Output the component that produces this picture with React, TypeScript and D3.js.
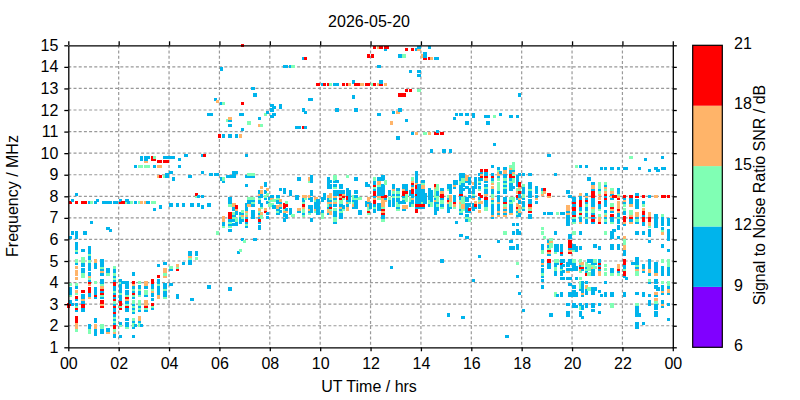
import React, { useEffect, useRef } from 'react';
import * as d3 from 'd3';

// one row per 5 minute slot of the day: [slot, SNR 9-12, SNR 12-15, SNR 15-18, SNR 18-21] with the frequencies in MHz
type ScanRow = [number, number[], number[], number[], number[]];

const scans00to04: ScanRow[] = [
	[0, [], [], [], [3, 2.9]],
	[1, [6.1, 3.7, 3.6, 3.5, 3.1], [3.9, 3.4], [], [7.7, 3]],
	[2, [7.8, 6.3, 3], [], [], []],
	[4, [8.1, 6.3, 6.2, 6.1, 5.8, 5.7, 5.6, 5.4, 4.9, 3.8, 3.2, 3, 2.7], [5.5, 5, 3.9, 3.5, 2.9, 1.8], [4.7, 4.5, 4.4, 4.2, 3.6, 2.1, 2, 1.9], [7.7, 3.3, 2.8, 2.4, 2.3, 2.2]],
	[7, [5.5, 4.9, 4.8, 4.6, 4.5, 3.4, 3.3, 3.1, 2.8, 2.7], [5.1, 5, 4.4, 4.3], [3.2], [7.7, 3.6, 3, 2.9]],
	[8, [6.3], [], [], [7.7]],
	[10, [7.7, 5.6, 5.5, 5.4, 5.2, 5.1, 4.9, 4.8, 4.7, 4.6, 4.4, 4.1, 3.5, 3.4, 2, 1.9], [5.3, 5, 4.2, 1.8, 1.7], [4.3, 3.9, 3.3], [4, 3.7, 3.6]],
	[11, [7.7, 6.8], [7.7], [], []],
	[13, [7.7, 4.9, 4.8, 4.7, 3.7, 3.6, 3.5, 3.3, 2.3, 2.2, 1.8, 1.7, 1.6], [4, 3.4], [5, 2, 1.9], [3.4]],
	[14, [7.8], [], [], []],
	[16, [5, 4.9, 4.8, 4.6, 4.4, 4.1, 4, 3.6, 3.3, 1.8, 1.7], [4.7, 3.9, 3.4, 2, 1.9], [4.5, 3.8, 3], [3.7, 3.5, 3.1, 2.9]],
	[17, [7.7], [], [], []],
	[19, [7.7, 6.5, 4.6, 4.5, 1.8], [4.4], [1.7], []],
	[20, [7.7, 6.4], [], [], []],
	[22, [7.7, 4.6, 4.5, 4.3, 4.1, 3.8, 3.7, 3.5, 3.3, 3, 2.8, 2.7, 2.5, 2.3, 2.1, 1.6, 1.5], [4.7, 4.4, 4.2, 3.6, 3.1, 2.4, 2.2, 1.8], [1.7], [4, 3.9, 3.4, 3.2, 2.9, 2.6, 2, 1.9]],
	[23, [7.7], [], [], []],
	[25, [7.8, 4.1, 3.9, 3.8, 3.7, 3.6, 3.4, 3.3, 3.2, 2.1, 1.5], [4, 3.5, 2.9, 2], [], [7.7, 3.1, 3, 2.8]],
	[26, [4], [], [], [7.7]],
	[28, [7.8, 4, 3.9, 3.8, 3.6, 3.5, 3.1, 2.8, 2.7, 2.3, 2.1, 2], [7.7, 3.4, 3, 1.9], [3.2], [3.3, 2.9]],
	[29, [7.7], [], [], []],
	[30, [], [7.7], [], []],
	[31, [4.4, 3.8, 3.6, 3.3, 3, 2.8, 2.6, 2.2, 1.9, 1.5], [3.7, 3.4, 3.1, 2.9, 2.7, 2.3, 2.1, 2], [3.9], [4, 3.5]],
	[32, [9.4, 7.7, 2], [], [], []],
	[34, [3.8, 3.6, 3.5, 2.9, 2.7, 2.2], [9.4, 7.7, 4, 3.7, 3.4, 3.1, 3, 2.8, 2.1, 2], [2.4, 2.3], []],
	[35, [9.8, 9.7, 2], [9.4], [7.7], []],
	[37, [9.8, 9.7, 3.8, 3.4, 2.7], [9.4, 3.6, 3.5, 2.8], [9.6, 7.7, 4, 3.9, 3.1, 3], [2.9]],
	[38, [9.8, 7.7], [9.4], [], []],
	[40, [3.9, 3.8, 3.5, 3.4, 3.2, 2.8], [7.7, 3.7, 2.9], [3.6], [9.8, 9.7, 4.1, 4, 3]],
	[41, [9.4, 7.4], [9.8, 7.7], [], [9.7]],
	[43, [4.8, 4.1, 4, 3.8, 3.7, 3.6, 3.5], [3.9], [9.4, 8.9, 3.4, 3.3], [9.6, 4.3]],
	[44, [7.5], [], [9.4], [9.6, 8.9]],
	[46, [9.8, 4.9, 3.9, 3.8, 3.6, 3.5, 3.4], [8.9, 4.4, 3.7, 3.3], [4.6, 4.5, 4.3], [9.6]],
	[47, [9.8, 9, 8.9], [], [], [9.6]],
];

const scans04to08: ScanRow[] = [
	[49, [9.8, 9.1, 7.6, 4.6, 3.9], [4.7], [], []],
	[50, [9.8, 8.8], [], [], []],
	[52, [7.6, 3.4, 3.3], [4.7], [4.8], [4.6]],
	[53, [9.7, 9.4], [], [], []],
	[55, [7.6, 4.9], [], [], []],
	[56, [9.9], [], [], []],
	[58, [8.9, 5.4, 5.3, 5, 4.9], [5.1], [5.2], []],
	[59, [7.6, 3.2], [], [], []],
	[61, [8, 5.4, 5.3], [8, 5.1], [], [8.1]],
	[62, [8, 7.6], [], [], []],
	[64, [9.9, 9.1, 8, 7.5], [], [], []],
	[65, [], [], [], [9.9]],
	[67, [11.8, 7.6, 3.8], [], [], []],
	[68, [11.8, 9], [], [], []],
	[70, [12.5, 9], [], [], []],
	[71, [12.4, 9], [6.3], [12.4], []],
	[72, [], [], [], [10.8]],
	[73, [13.9, 12.3, 8.8], [], [], []],
	[74, [10.8, 8.7, 6.8, 6.7], [12.3, 8.8, 6.6], [7, 6.9], []],
	[76, [8.9], [11.5], [], []],
	[77, [11.5, 11.3, 10.8, 8.9, 7.9, 7.8, 7.7, 6.9, 6.7, 6.4, 3.7], [7.6, 6.8, 6.6], [11.6], [7.2, 7.1, 7]],
	[79, [9.1, 9, 8.9, 7.5, 7.4, 7.1, 6.9, 6.7], [7.2, 7], [7.6], []],
	[80, [10.8, 9.1, 7.3, 7.2, 6.8, 6.7], [6.9], [7.4], [7.5]],
	[81, [5.4], [], [], []],
	[82, [11.8, 7.2, 7, 6.9, 6.8], [7.1, 5.5], [10.8], []],
	[83, [11.8, 11.1, 7.2, 6.9, 6], [7.3, 7], [7.1], [15, 12.3]],
	[84, [], [5.9], [], []],
	[85, [9.9, 8.9, 8.5, 7.6, 7.5, 7.4, 7, 6.8, 6.6], [7.2, 6.7], [7.3, 7.1], [6.9]],
	[86, [8.9, 7.8, 7.7], [11.4, 9, 7.9], [7.6], []],
	[88, [13, 8.9, 7.8, 7.6, 7.3, 7.2, 7.1, 7], [9, 7.9, 7.7], [], []],
	[89, [12.7, 6], [], [], []],
	[91, [11.6, 8.2, 8, 7.8, 7.7, 7.2, 7, 6.8, 6.6, 6.5], [7.9, 7.3], [11.3, 8.1, 7.4, 7.1], [6.9]],
	[92, [8.1, 8, 7.6], [11.3, 7.5, 7.1, 7], [8.4, 8.2, 7.2], []],
	[94, [8.6, 8.5, 8.2, 7.9], [11.8, 8], [7.4], [7.3]],
	[95, [11.9, 7.7, 7.2, 7], [8.1], [8.3], []],
];

const scans08to12: ScanRow[] = [
	[96, [7.9], [7.8, 7.6], [], []],
	[97, [12.2, 12, 11.7, 8], [7.6], [7.9], []],
	[98, [12.1, 11.8, 7.5], [7.8], [], []],
	[100, [8, 7.8, 7.7, 7.4, 7.2], [7.9, 7.3], [7.5], []],
	[101, [12.2, 12.1, 8.3, 7.7, 7.5, 7.3], [], [7.8, 7.6], []],
	[103, [14, 8.3, 8.2, 7.2, 7.1, 6.9], [7.4], [7.3], [7.6, 7.5]],
	[104, [14, 7.4, 7.1, 7], [7.7], [7.3], [7.6]],
	[106, [14, 8.2, 8.1, 7.4, 7.3, 7.2], [], [], []],
	[107, [], [14, 7.1], [], []],
	[109, [11.2, 8, 7.9], [], [], []],
	[110, [11.2, 8.8, 7.3], [], [7.4], []],
	[112, [14.4, 12, 7.9, 7.8, 7.2], [7.7, 7.4, 7.3, 7.1], [8, 7.5], [11.2, 7.6]],
	[113, [11.9, 11.2], [7.9], [8], [14.4]],
	[115, [12.5, 7.9, 7.5, 7.3], [8.7, 7.2], [8.8, 8, 7.4], []],
	[116, [12.5, 8.9, 8.8, 8.7, 8.2, 8.1, 7.9, 7.8, 7.5, 7.4, 7.3, 6.9], [], [], []],
	[118, [7.7, 7.6, 7.5], [7.8, 7.3], [7.9, 7.4], []],
	[119, [7.8, 7.7, 7.6, 7.5, 7.4, 7.3, 7.2], [], [], [13.2]],
	[121, [13.2, 7.9, 7.8, 7.3], [7.2, 7.1, 7], [], []],
	[122, [8.1, 8, 7.9], [], [], [13.2]],
	[124, [8.8, 8.7, 8.6, 8.5, 8.4, 7.9, 7.8, 7.5, 7.2], [7.6], [8, 7.7, 7.4, 7.3], [13.2]],
	[125, [8.7, 8.5, 8.4, 7.8, 7.6], [13.2, 7.9, 7.4], [8.1, 8, 7.7, 7.3, 7.2], [7.5]],
	[127, [13.2, 8.7, 8.5, 8.2, 8.1, 7.9, 7.6, 7.3, 7.2, 7.1, 6.8], [8.9, 8.8, 8.4, 7.8, 7.4, 7, 6.9], [8, 7.7], []],
	[128, [13.2, 12, 8.7, 8.2, 8.1], [], [], []],
	[130, [8.5, 8.4, 8.2, 7.6, 7.4, 7.2, 7.1, 7], [7.8, 7.7, 7.3], [8, 7.5], [8.1, 7.9]],
	[131, [8.2, 7.5], [7.9, 7.4], [8.1], [13.2, 8]],
	[133, [8.3, 8.2, 8.1, 7.8, 7.6], [8.9], [7.7, 7.5, 7.4], [13.2, 8, 7.9]],
	[134, [8.2, 8.1, 8, 7.9, 7.8], [7.7], [13.2], []],
	[136, [13.3, 12.6, 7.8, 7.5], [8, 7.9, 7.7], [7.6], []],
	[137, [12, 8.8, 8.2, 8, 7.8, 7.7, 7.6, 7.5], [7.9], [], [13.2]],
	[139, [7.3, 7.2], [7.9], [], [13.2]],
	[140, [], [], [13.2], []],
	[142, [8.6, 8.5, 7.7, 7.6], [], [], [13.2]],
	[143, [8.5, 7.7], [7.5, 7.4, 7.2], [7.9, 7.8, 7.6], [14.5, 13.2, 7.3]],
];

const scans12to16: ScanRow[] = [
	[144, [7.6, 7.5], [], [], []],
	[145, [], [13.2], [], [14.5]],
	[146, [8.7, 8.6, 8.3, 8, 7.6, 7.4, 7.3], [8.8, 8.4, 7.5], [7.9], [14.9, 13.2, 8.5, 8.2, 8.1, 7.8, 7.7]],
	[148, [14, 11.8, 8.8, 8.4, 8.3, 8.2, 8.1, 7.6, 7.5, 7.4], [8.5, 7.9], [14.9, 13.2, 8.7, 8.6, 8], []],
	[149, [13.3], [], [], [14.9, 13.2]],
	[150, [8.9, 8.8, 8.5, 8.4, 8.3, 8.2, 8.1, 7.1, 7], [7.5, 6.9], [7.9, 7.8, 7.7, 7.6, 7.3], [8, 7.4, 7.2]],
	[151, [14.8, 7.9], [8.7, 8.6], [13.2, 7.8], [14.9, 8]],
	[152, [], [], [], [14.9]],
	[153, [8.2, 8.1, 7.8, 7.7, 7.6], [7.9], [], []],
	[154, [4.7], [], [11.4], []],
	[155, [11.9, 8.5, 8.4, 8.1, 7.9, 7.8, 7.7, 7.6], [8.2, 8], [8.3], []],
	[157, [10.7, 8.3, 8.1, 7.9, 7.8, 7.5], [8.2, 8, 7.7, 7.6, 7.4], [11.9], []],
	[158, [14.5, 12, 7.7], [], [], [12.7]],
	[160, [8.5, 8.4, 8, 7.8, 7.7, 7.4], [14.5, 7.9], [8.3, 7.5], [12.7, 8.2, 8.1]],
	[161, [11.5, 8.5, 8.4, 8.3], [8.1, 8, 7.9, 7.8], [7.5], [14.8, 12.9, 8.2]],
	[163, [13.8, 8.2, 8.1, 7.7, 7.6], [7.9, 7.8], [], [12.9]],
	[164, [10.9, 8.5, 8.1, 8, 7.8, 7.7], [8.8, 7.6], [8.7, 8.4, 7.9], [14.8, 8.6, 8.3, 8.2]],
	[166, [14.8, 9.1, 9, 8.9, 8.8, 8.7, 8.3, 8.2, 8, 7.9, 7.8, 7.7, 7.5], [], [10.9, 8.6], [8.5, 8.4, 8.1, 7.6, 7.4, 7.3]],
	[167, [14.9, 13.8, 13.6, 8.5, 8.4, 8.3, 8.2, 8.1, 8, 7.9, 7.8, 7.7, 7.5], [12.9], [14.8], [7.6]],
	[169, [8.7, 8.3, 8.2, 8.1, 8, 7.9, 7.8, 7.5], [8.6, 7.7], [14.5, 8.5, 8.4], [7.6]],
	[170, [14.6, 14.5, 8.1, 8, 7.9, 7.8, 7.7], [10.9], [], [14.4]],
	[172, [14.9, 8.3, 8.2, 8.1, 8, 7.9, 7.6], [7.8, 7.7], [10.9], [14.4]],
	[173, [10.1, 8.2, 8.1, 8, 7.9, 7.8], [7.7, 7.6], [14.4], []],
	[175, [14.4, 7.9, 7.7, 7.6, 7.5, 7.4, 7.3, 7.2], [8.3, 8.2, 8.1, 8], [7.8, 8.4], [10.9, 8.5]],
	[176, [14.4, 11, 8.2, 8.1, 7.7, 7.5, 7.4], [8.5, 8.4, 8.3, 8, 7.9, 7.8, 7.6], [], [10.9]],
	[178, [8.3, 7.9, 7.6, 5], [7.8, 7.7, 7.5], [8.2], [10.9, 8.1, 8]],
	[179, [10.1], [], [], []],
	[181, [8.5, 8.4, 7.9, 7.6, 7.5, 7.4, 7.3, 2.5], [8.3, 8], [7.7], [7.8]],
	[182, [10.1, 8.5, 8.4, 8.3, 8.2, 7.5], [7.7, 7.6], [8, 7.9, 7.8], []],
	[184, [11.6, 8.7, 8.6, 8.4, 8, 7.9, 7.8], [7.5], [8.5, 7.6], [7.7]],
	[185, [11.8, 8.7, 8.6, 6.8], [], [], []],
	[187, [11.8, 9, 8.9, 8.8, 8.5, 8.4, 8.3, 8.2, 8, 7.9, 7.4, 7.2, 6.2], [8.7, 8.6, 7.8, 7.6, 7.5, 7.3], [7.7], [8.1]],
	[188, [9, 8.9, 8.6, 8.5, 8.3, 2.4], [8.8, 8.7, 7.9, 7.8, 7.7, 7.4], [7.6, 7.5], []],
	[190, [11.8, 11.4, 8.7, 8.4, 7.9, 7.8, 7.6, 7.5, 7.4, 7.3, 7.1, 6.9, 6.1], [7], [8.9, 8.8], []],
	[191, [8.8, 8.7, 8.6, 8.3, 8.2, 8, 7.6, 7.3], [6.9], [], [7.4]],
];

const scans16to20: ScanRow[] = [
	[193, [11.7, 11.8, 8.4, 8.3, 8.2, 8, 7.6, 7.5, 7.4, 4.1], [8.1], [8.6, 7.9], []],
	[194, [8.8, 8.7, 8.6, 8.5, 8.4, 7.5], [], [7.7], [7.6]],
	[196, [9, 8.8, 8.6, 8.4, 7.9, 7.6, 7.5, 5.2], [8.7, 8.3, 7.8], [7.7, 7.3], [8.1]],
	[197, [9.1, 8.8], [], [9, 7.7], [9.2, 8.9, 8]],
	[199, [11.7, 9.1, 9, 8.7, 8.5, 8.3, 8.2, 7.8, 7.7, 7.6], [8.4, 7.5, 7.4], [8.8, 8.1], [9.2, 8.9, 7.9]],
	[200, [11.7, 11.4], [], [], []],
	[202, [9.4, 9, 8.8, 8.3, 8.2, 7.8, 7.6, 7.5, 7.4, 7.3, 7.2, 7], [8.7, 8.1, 8, 7.7], [8.6, 8.4, 7.9, 7.1], [8.9]],
	[203, [10.4], [11.7], [], []],
	[205, [9.3, 8.9, 8.2, 8, 7.9, 7.8, 7.6, 7.5, 7.4, 7.2, 5.9], [9.2, 8.8, 8.6, 8.5, 8.4, 8.3], [9.1, 9, 7.7, 7.3, 7.1], []],
	[206, [11.8, 9.1], [], [], []],
	[208, [9.3, 9, 8.9, 8.7, 8.5, 8.3, 8.2, 7.9, 7.8, 7.4, 7.2], [8.8, 8.6, 8.4, 7.6, 6.3], [9.2, 9.1, 7.5, 7.3, 7.1], [7.7]],
	[209, [1.5], [], [], []],
	[211, [11.7, 9.2, 9.1, 8.8, 8.6, 8.5, 8.4, 8.3, 7.8, 7.6, 7.5, 7.4, 7.3, 5.9, 5.6], [9.4, 8.7, 7.9, 7.7], [9.3, 7.2], [9, 8.9]],
	[212, [9.2, 8.4, 6.7, 6.3, 5.6], [9.5, 9.4, 9.3, 9, 8.8, 8.7, 7.9, 7.8], [9.1], [8.9]],
	[214, [11.7, 8.9, 8.8, 8.7, 8.6, 8.5, 7.9, 7.3, 7.1, 6.7, 6.4, 6.3, 5.7, 5.6, 4.3], [8.3, 7.2, 4.9], [8.2, 7.6, 7.4], [8, 7.5]],
	[215, [12.7, 9, 8.1, 8, 7.8, 7.7, 7.2, 7.1, 6.3, 3.5], [8.3, 7.4], [8.4, 7.9, 7.5, 7.3], [8.6, 8.5, 8.2]],
	[217, [9, 8.4, 8.3, 8.2, 7.9, 7.7, 7.6, 7.4, 2.7], [8.5, 8.1, 8, 7.5], [], []],
	[220, [9, 8.6, 8.5, 8.4, 8.2, 8.1, 8, 7.8, 7.7, 7.1, 7], [8.3, 7.4], [7.5], [7.6, 7.3]],
	[223, [8.4, 8.3, 8.2, 8, 7.7], [], [7.9], []],
	[226, [8.3, 5.7, 5.6, 5, 4.8, 4.6, 4.5, 4.3, 4.1, 3.8], [8.2, 6.5, 6.3, 5.5, 5.4, 4.4], [8.1, 4.9], []],
	[227, [7.2], [6.1], [8.2], [8.3]],
	[229, [7.2, 9.9, 5.9, 5.7, 5.3, 4.9, 4.8, 4.7], [5.6], [8, 5.8, 5.4], [8.1, 5.5, 5]],
	[230, [7.2, 2.5], [6, 5.8, 5.7], [5.9], []],
	[232, [9, 6.3, 5.7, 5.6, 5.5, 4.9, 4.8, 4.5, 4.4], [5.4, 5, 4.7, 4.6, 3.5, 3.4], [], []],
	[233, [7.2, 5.7, 5.6, 5.5, 4.9, 3.4], [7.2, 5], [], []],
	[235, [7.2, 5.7, 5.6, 5.5, 5.3, 5, 4.8, 4.7, 4.5, 4.4, 4.2, 3.5, 3.4], [4.6], [], [5.4, 4.9]],
	[236, [7.2, 5, 4.8, 4.5, 4.2], [], [], []],
	[238, [8.2, 7.3, 7.1, 7, 6.9, 6.8, 6.7, 4.9, 4.8, 4.6, 4.2, 3, 2.6, 2.5], [], [7.5, 7.4, 7.2, 4.5], []],
	[239, [6.2, 6.1, 8, 5.6, 5, 4.9, 4.6, 4.2, 3.9, 3.5, 3.4], [], [5.5], [5.9, 5.8, 5.7, 5.4]],
];

const scans20to24: ScanRow[] = [
	[241, [7.9, 7.8, 7.6, 7.3, 7.2, 6.9, 5.7, 5.6, 4.9, 4.8, 4.7, 4.6, 3.8, 3.6, 3.5, 3.4, 3, 2.9], [7, 6.8, 6.3, 5.5, 5], [], [7.7, 7.5, 7.4, 7.1]],
	[242, [5.6, 5.5, 4.7, 4.6, 4.2, 3.5, 3.4, 2.9], [9.4], [], []],
	[244, [9.4, 8, 7.9, 7.5, 7.4, 7, 6.9, 6.3, 5.6, 4.8, 3.7, 3, 2.6, 2.5], [7.3, 7.1, 5, 4.5, 4.2, 4, 3.9, 3.8, 2.9, 2.8], [8.1, 6.8, 4.9, 4.6], [7.8, 7.7, 7.6, 7.2, 4.7]],
	[245, [4.6, 4, 3.9, 3.8, 3.7, 3.6, 3.4, 2.9, 2.8, 2.4], [4.8], [4.9, 3.5], [4.7]],
	[247, [9.4, 8.1, 7.9, 7.7, 7.5, 7.4, 7.2, 7.1, 6.9, 6.8, 4.7, 4.5, 4, 3.7, 3.6, 3.5, 3, 2.9], [7.6, 7.3, 7, 4.9, 4.8, 4.6], [8, 3.8], [7.8, 4.4]],
	[248, [8.8, 5], [4.8, 4.7, 4.6, 4.4, 3.7], [], []],
	[250, [8.6, 8.3, 7.9, 7.8, 7.7, 7.6, 7.2, 7, 6.8, 5, 4.9, 4.6, 4.5, 4.4, 3.7, 3.6, 3.5, 3, 2.9, 2.7], [7.4, 7.3, 4.8], [8.5, 8.4, 7.5, 4.7], [8.2, 8.1, 8, 7.1, 6.9]],
	[251, [5.7, 4.9, 3.7], [5, 4.7], [], []],
	[253, [8.3, 7.6, 7.5, 5.6, 5, 4.8, 4.6, 3.6, 3, 2.6], [8.6, 8.5, 8.4, 8.2, 7.4, 7.1], [8.1, 7.9, 7, 6.9, 4.5, 4.4], [7.7, 6.8, 4.9, 4.7]],
	[254, [9.3, 3.4], [], [], []],
	[256, [9.3, 8.5, 8, 7.8, 7.7, 7.6, 7.3, 7, 6.8, 4, 3.5, 3.4], [8.6, 8.3, 7.2, 6.9, 6.3, 4.8, 4.6, 4.4], [8.4, 8.2, 7.1], [8.1, 7.9]],
	[259, [9.3, 8.1, 7.9, 7.3, 7, 6.9, 6.3, 6.2, 6.1, 5.7, 5.6, 4.6, 4.5, 3.5, 3.4], [8.3, 7.6, 6.8, 4.4, 3, 2.9], [8.2, 8, 7.4], [7.5, 7.1]],
	[260, [6.4], [], [], [8]],
	[261, [], [], [], [8]],
	[262, [9.3, 8.3, 8.2, 7.2, 7.1, 6.9, 6.8, 6.6, 6.5, 6.1, 5.7, 5.6, 4.5], [8.1, 8, 7, 4.4], [8, 7.7, 7.6, 7.5, 7.3, 4.8, 4.7], [7.9, 7.4, 4.6]],
	[265, [9.3, 7.9, 7.7, 7.3, 7.2, 6.7, 5.5, 5.4, 5.3, 4.8, 4.7, 4.3, 3.5, 3.4], [7.6, 7.4, 6, 5.9, 5.8, 4.6], [7.8, 6.8, 6.1, 5.7, 5.6], [8, 7, 6.9, 5, 4.9, 4.5, 4.4]],
	[266, [9.3, 4.2], [], [], []],
	[268, [7.9, 7.8, 7.7, 6.9], [9.8, 7.3, 7.2], [7.6, 7.1, 6.8], [8, 7]],
	[269, [4.9], [], [], []],
	[271, [8.1, 7.8, 7.7, 7.6, 7.5, 7, 6.8, 6.3, 5.1, 5, 4.9, 4.7, 3.5, 2.9, 2.8, 2.7, 2.6, 2.5, 2.1, 2, 1.9], [6.9, 4.8, 4.5, 4.4, 3], [7.2, 7.1, 4.6], [8]],
	[272, [9.3, 2.5], [], [], []],
	[274, [7.7, 7.1, 6.8, 6.7, 6.3, 4.8, 4.7, 4.5, 3.5, 3.4, 2.1], [7.6], [7.4, 4.6], [8, 7.3, 7.2, 7, 6.9]],
	[275, [9.7], [], [], []],
	[277, [9.2, 8, 6.4, 6.3, 6.2, 5.9, 5, 4.9, 4.8, 4.7, 4.4, 4, 3.4, 3.1, 3], [6.6, 4.1], [7.2, 7.1, 6.8, 6.7, 4.6, 4.5], [7, 6.9]],
	[280, [9.3, 7.1, 7, 6.9, 6.8, 6.7, 6.6, 4.9, 4.8, 4.7, 4.6, 4.5, 4.1, 4, 3.8, 3.4, 3, 2.9, 2.8, 2.6, 2.5], [3.1], [8, 4.4, 3.5, 3.2], []],
	[281, [9.2, 3.7], [], [], []],
	[283, [9.8, 9.3, 7, 6.9, 6.8, 6.7, 6.5, 5.7, 4.7, 4.6, 4.5, 4.4, 3.8, 3.7, 3.5, 3.1, 2.9], [7.1, 6.4, 5, 4], [6.3, 3.6, 3], [8]],
	[284, [9.3], [], [], [8]],
	[286, [6.9, 6.8, 6.7, 6.4, 6.3, 6.2, 6.1, 6, 5.5, 4.7, 4.6, 4.5, 4.4, 3.8, 3.5, 3, 2.3], [5, 4.9, 4.8, 4, 3.9], [3.7, 3.6], [8]],
];

const snrLevels = [10, 13, 16, 19];
const snrThresholds = [6, 9, 12, 15, 18, 21];
const snrColors = ['#8000ff', '#00b4ec', '#80ffb4', '#ffb469', '#ff0000'];
const hourTicks = [0, 2, 4, 6, 8, 10, 12, 14, 16, 18, 20, 22, 24];
const freqTicks = [1, 2, 3, 4, 5, 6, 7, 8, 9, 10, 11, 12, 13, 14, 15];
const dateLabel = '2026-05-20';

const width = 800;
const height = 400;
const plot = { left: 68.3, right: 672.8, top: 45.3, bottom: 347.3 };
const bar = { left: 692.7, right: 722.3 };
const font = '"Liberation Sans", Arial, sans-serif';
const fontSize = 16;

const App: React.FC = () => {
	const ref = useRef<SVGSVGElement>(null);

	useEffect(() => {
		if (!ref.current) return;
		const svg = d3.select(ref.current);
		svg.selectAll('*').remove();

		const x = d3.scaleLinear().domain([0, 24]).range([plot.left, plot.right]);
		const y = d3.scaleLinear().domain([1, 15]).range([plot.bottom, plot.top]);
		const snrY = d3.scaleLinear().domain([6, 21]).range([plot.bottom, plot.top]);
		const color = d3.scaleThreshold<number, string>().domain(snrThresholds.slice(1, 5)).range(snrColors);

		// --- grid ---
		const grid = svg.append('g').attr('stroke', '#999').attr('stroke-width', 1.2).attr('stroke-dasharray', '3,2.2');
		hourTicks.slice(1, -1).forEach((h) => {
			grid.append('line').attr('x1', x(h)).attr('x2', x(h)).attr('y1', plot.top).attr('y2', plot.bottom);
		});
		freqTicks.slice(1, -1).forEach((f) => {
			grid.append('line').attr('x1', plot.left).attr('x2', plot.right).attr('y1', y(f)).attr('y2', y(f));
		});

		// --- cells ---
		const rows = [...scans00to04, ...scans04to08, ...scans08to12, ...scans12to16, ...scans16to20, ...scans20to24];
		const cells = rows.flatMap(([slot, ...bands]) =>
			bands.flatMap((freqs, i) => freqs.map((freq) => ({ slot, freq, snr: snrLevels[i] }))),
		);
		cells.sort((a, b) => d3.ascending(a.slot, b.slot) || d3.ascending(a.freq, b.freq));
		svg
			.append('g')
			.attr('shape-rendering', 'crispEdges')
			.selectAll('rect')
			.data(cells)
			.join('rect')
			.attr('x', (d) => x(d.slot / 12) - 1.7)
			.attr('y', (d) => y(d.freq) - 1.6)
			.attr('width', 3.4)
			.attr('height', 3.2)
			.attr('fill', (d) => color(d.snr));

		// --- axes ---
		const styleAxis = (g: d3.Selection<SVGGElement, unknown, null, undefined>) => {
			g.attr('font-family', font).attr('font-size', fontSize);
			g.selectAll('.domain').attr('stroke', '#000').attr('stroke-width', 1.3);
			g.selectAll('.tick line').attr('stroke', '#000').attr('stroke-width', 1.3);
			g.selectAll('.tick text').attr('fill', '#000');
		};
		const hourLabel = (h: d3.NumberValue) => d3.format('02d')(+h % 24);
		svg
			.append('g')
			.attr('transform', `translate(0,${plot.bottom})`)
			.call(d3.axisBottom(x).tickValues(hourTicks).tickSize(4).tickSizeOuter(0).tickPadding(6).tickFormat(hourLabel))
			.call(styleAxis);
		svg
			.append('g')
			.attr('transform', `translate(0,${plot.top})`)
			.call(d3.axisTop(x).tickValues(hourTicks).tickSize(4).tickSizeOuter(0).tickFormat(() => ''))
			.call(styleAxis);
		svg
			.append('g')
			.attr('transform', `translate(${plot.left},0)`)
			.call(d3.axisLeft(y).tickValues(freqTicks).tickSize(4).tickSizeOuter(0).tickPadding(6).tickFormat(d3.format('d')))
			.call(styleAxis);
		svg
			.append('g')
			.attr('transform', `translate(${plot.right},0)`)
			.call(d3.axisRight(y).tickValues(freqTicks).tickSize(4).tickSizeOuter(0).tickFormat(() => ''))
			.call(styleAxis);

		// --- colour bar ---
		svg
			.append('g')
			.selectAll('rect')
			.data(d3.pairs(snrThresholds))
			.join('rect')
			.attr('x', bar.left)
			.attr('width', bar.right - bar.left)
			.attr('y', (d) => snrY(d[1]))
			.attr('height', (d) => snrY(d[0]) - snrY(d[1]))
			.attr('fill', (d) => color(d[0]));
		svg
			.append('rect')
			.attr('x', bar.left)
			.attr('y', plot.top)
			.attr('width', bar.right - bar.left)
			.attr('height', plot.bottom - plot.top)
			.attr('fill', 'none')
			.attr('stroke', '#000')
			.attr('stroke-width', 1.2);
		svg
			.append('g')
			.attr('font-family', font)
			.attr('font-size', fontSize)
			.selectAll('text')
			.data(snrThresholds)
			.join('text')
			.attr('x', 734)
			.attr('y', (d) => snrY(d) - 2)
			.attr('dy', '0.35em')
			.text((d) => d);

		// --- titles ---
		const label = (text: string, tx: number, ty: number, rotate = 0) =>
			svg
				.append('text')
				.attr('transform', `translate(${tx},${ty}) rotate(${rotate})`)
				.attr('text-anchor', 'middle')
				.attr('font-family', font)
				.attr('font-size', fontSize)
				.text(text);
		label(dateLabel, 369, 27);
		label('UT Time / hrs', 369, 392);
		label('Frequency / MHz', 18, 196, -90);
		label('Signal to Noise Ratio SNR / dB', 765, 195, -90);
	}, []);

	return <svg ref={ref} width={width} height={height} style={{ position: 'absolute', left: 0, top: 0, background: '#fff' }} />;
};

export default App;
